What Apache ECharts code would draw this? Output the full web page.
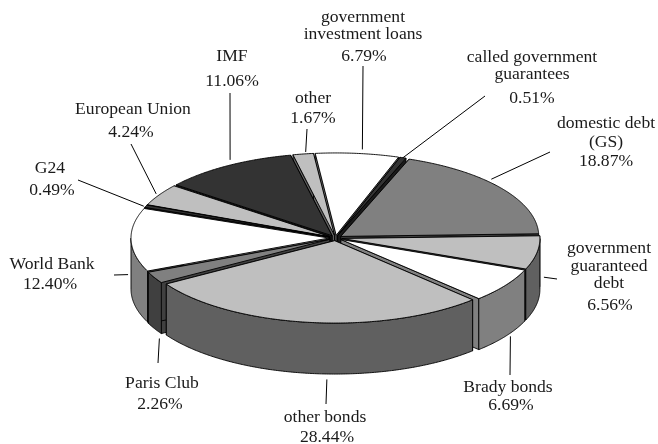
<!DOCTYPE html>
<html><head><meta charset="utf-8">
<style>html,body{margin:0;padding:0;background:#fff}#c{width:658px;height:444px}</style>
<script src="https://cdn.jsdelivr.net/npm/echarts@6/dist/echarts.min.js"></script>
</head><body><div id="c"></div>
<script>
// Data, clockwise from the domestic debt slice
const categories = ['domestic debt\n(GS)','government\nguaranteed\ndebt','Brady bonds','other bonds','Paris Club','World Bank','G24','European Union','IMF','other','government\ninvestment loans','called government\nguarantees'];
const values = [18.87,6.56,6.69,28.44,2.26,12.40,0.49,4.24,11.06,1.67,6.79,0.51];
const topColors = ['#808080','#bfbfbf','#ffffff','#bfbfbf','#808080','#ffffff','#333333','#bfbfbf','#333333','#bfbfbf','#ffffff','#333333'];
const sideColors = ['#404040','#606060','#808080','#606060','#404040','#808080','#1a1a1a','#606060','#1a1a1a','#606060','#808080','#1a1a1a'];
// Label layout: centre x per line, centre y per line, leader far end, leader near-end nudge from the rim
const labelX = [[606,606,606],[609,609,609,610],[508,511],[325,327],[162,160],[52,50],[50,52],[133,131],[232,232],[313,313],[363,363,364],[532,532,532]];
const labelY = [[123,142,161],[248,266,283,305],[387,405],[417,437],[383,404],[264,284],[168,190],[109,132],[56,81],[98,118],[17,34,56],[57,74,98]];
const leaderEnd = [[550,152],[557,279],[510,375],[326,404],[158,363],[114,275],[78,180],[131,144],[230,93],[307,129],[363,66],[485,96]];
const leaderNudge = [[-10,-9],[7,-1],[5,0],[16.5,6],[5,10],[-3,-1],[-2,0],[-3,-1],[3,-6],[2.5,-2],[5,-4],[0,0]];
const leaderDepth = [0,0.5,1,1,1,0.7,0,0,0,0,0,0];

// Pie projection
const CX = 335.5, CY = 238, R = 198, KY = 0.416, DEPTH = 51, EXPLODE = 6.5, START = 69.8;
const total = values.reduce((a, b) => a + b, 0);
const RAD = Math.PI / 180;
let running = START;
const slices = values.map((v, i) => {
  const a0 = running, a1 = running - v / total * 360;
  running = a1;
  const mid = (a0 + a1) / 2;
  return { i, a0, a1, mid,
    ox: CX + EXPLODE * Math.cos(mid * RAD),
    oy: CY - EXPLODE * KY * Math.sin(mid * RAD) };
});
const rimPoint = (s, a) => [s.ox + R * Math.cos(a * RAD), s.oy - R * KY * Math.sin(a * RAD)];
const drawOrder = slices.slice().sort((p, q) => Math.sin(q.mid * RAD) - Math.sin(p.mid * RAD)).map(s => s.i);

function poly(points, fill, z2) {
  return { type: 'polygon', z2, shape: { points },
    style: { fill, stroke: '#000', lineWidth: 0.9, lineJoin: 'round' } };
}
function renderSlice(params, api) {
  const s = slices[api.value(0)], rank = params.dataIndex * 10;
  const kids = [], down = p => [p[0], p[1] + DEPTH];
  const apex = [s.ox, s.oy], p0 = rimPoint(s, s.a0), p1 = rimPoint(s, s.a1);
  kids.push(poly([apex, p0, down(p0), down(apex)], sideColors[s.i], rank));
  kids.push(poly([apex, p1, down(p1), down(apex)], sideColors[s.i], rank + 1));
  // Outer wall: only the part of the arc on the viewer's side
  const wallTop = [];
  for (let a = s.a0; a >= s.a1; a -= 0.5) {
    if (Math.sin(a * RAD) <= 0) wallTop.push(rimPoint(s, a));
  }
  if (Math.sin(s.a1 * RAD) <= 0) wallTop.push(p1);
  if (wallTop.length > 1) {
    kids.push(poly(wallTop.concat(wallTop.slice().reverse().map(down)), sideColors[s.i], rank + 2));
  }
  const top = [apex];
  for (let a = s.a0; a > s.a1; a -= 0.5) top.push(rimPoint(s, a));
  top.push(p1);
  kids.push(poly(top, topColors[s.i], rank + 3));
  return { type: 'group', children: kids };
}

const FONT = '"Liberation Serif", "Times New Roman", serif';
const graphics = [];
slices.forEach(s => {
  const lines = categories[s.i].split('\n').concat(values[s.i].toFixed(2) + '%');
  lines.forEach((t, k) => graphics.push({ type: 'text', silent: true, x: labelX[s.i][k], y: labelY[s.i][k],
    style: { text: t, fill: '#1a1a1a', font: '17.6px ' + FONT, textAlign: 'center', textVerticalAlign: 'middle' } }));
  const rim = rimPoint(s, s.mid), n = leaderNudge[s.i];
  graphics.push({ type: 'line', silent: true, shape: {
      x1: rim[0] + n[0], y1: rim[1] + n[1] + leaderDepth[s.i] * DEPTH,
      x2: leaderEnd[s.i][0], y2: leaderEnd[s.i][1] },
    style: { stroke: '#000', lineWidth: 1 } });
});

const chart = echarts.init(document.getElementById('c'), null, { renderer: 'canvas' });
chart.setOption({
  animation: false,
  backgroundColor: '#fff',
  series: [{ type: 'custom', coordinateSystem: 'none', silent: true, renderItem: renderSlice,
    data: drawOrder.map(i => [i, values[i]]) }],
  graphic: { elements: graphics }
});
</script></body></html>
